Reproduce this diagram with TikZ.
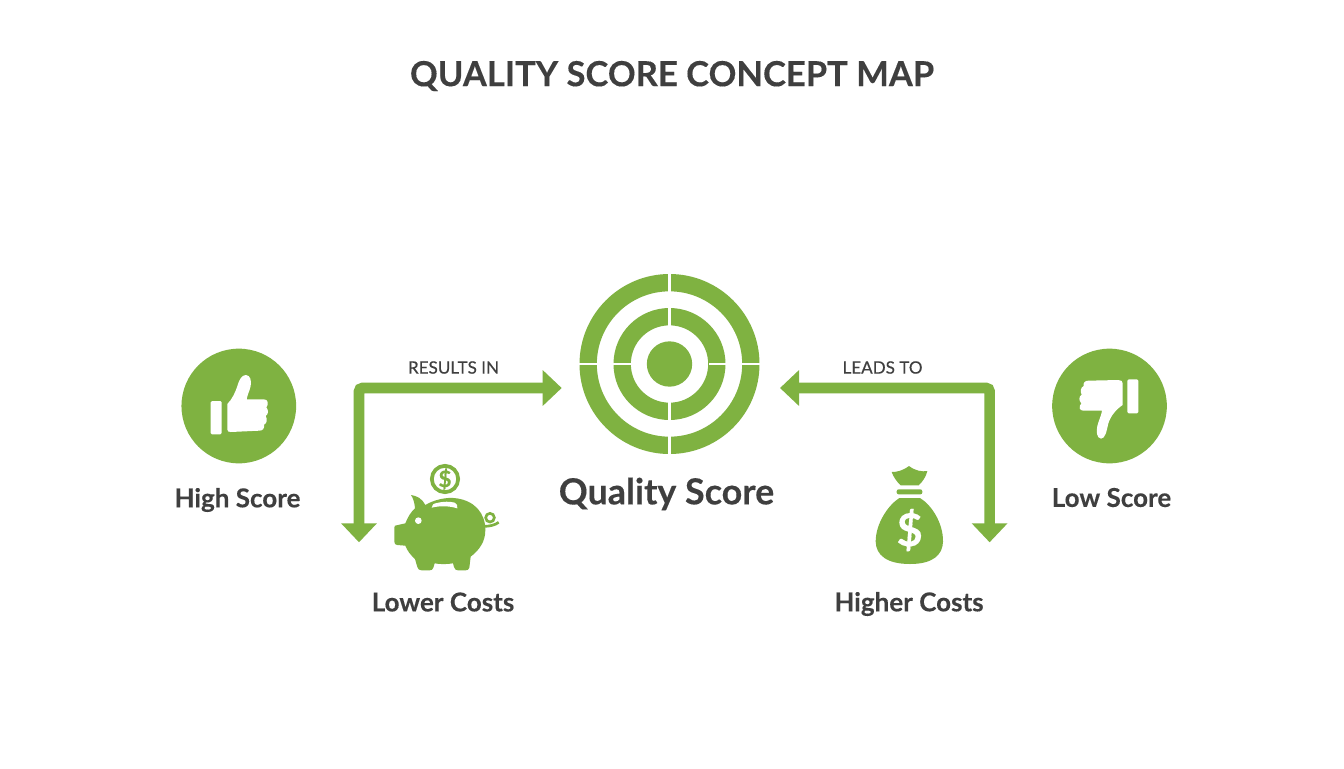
\documentclass[tikz,border=0pt]{standalone}
\usepackage{fontspec}
\usetikzlibrary{arrows.meta}
\setmainfont{Lato}[BoldFeatures={FakeBold=0.25}]
\newfontfamily\medfont{Lato}[FakeBold=0.35]
\definecolor{gr}{HTML}{7FB241}
\definecolor{ink}{HTML}{3F3F3F}
\tikzset{
  lab/.style={text=ink,font=\bfseries\fontsize{19.5}{22}\selectfont,inner sep=0pt,anchor=center},
  small/.style={text=ink,font=\medfont\fontsize{12.8}{14}\selectfont,inner sep=0pt,anchor=center},
  conn/.style={draw=gr,line width=7.9pt,rounded corners=2.5pt,
    {Triangle[length=14.25pt,width=26pt,fill=gr]}-{Triangle[length=14.25pt,width=26pt,fill=gr]}},
  icon/.style={x=0.25pt,y=-0.25pt},
  disc/.style={circle,fill=gr,draw=none,minimum size=86pt,inner sep=0pt}
}
\begin{document}
\begin{tikzpicture}[x=0.75pt,y=-0.75pt]
\useasboundingbox (0,0) rectangle (1344,768);
\fill[white] (0,0) rectangle (1344,768);
\node[text=ink,font=\bfseries\fontsize{25.9}{30}\selectfont,inner sep=0pt] (title) at (672,76) {QUALITY SCORE CONCEPT MAP};
% target
\coordinate (T) at (669.5,364);
\fill[gr,even odd rule] (T) circle[radius=67.5pt] (T) circle[radius=54.5pt];
\fill[gr,even odd rule] (T) circle[radius=42pt] (T) circle[radius=29pt];
\fill[gr] (T) circle[radius=17pt];
\fill[white] (668.1,270) rectangle (670.9,326);
\fill[white] (668.1,402) rectangle (670.9,458);
\fill[white] (575,362.6) rectangle (630.5,365.4);
\fill[white] (708.5,362.6) rectangle (764,365.4);
\node[text=ink,font=\bfseries\fontsize{26.9}{30}\selectfont,inner sep=0pt] (qs) at (666.5,494) {Quality Score};
% discs
\node[disc] (up) at (238.8,406) {};
\node[disc] (down) at (1109.5,406) {};
% thumb up
\begin{scope}[shift={(170,340)},icon]
\fill[white,rounded corners=1pt] (122,183) rectangle (155,283);
\fill[white] (172,192) .. controls (186,178) and (196,158) .. (203,135)
  .. controls (208,118) and (216,105) .. (228,105)
  .. controls (241,106) and (245,122) .. (242,138)
  .. controls (239,152) and (232,165) .. (230,178)
  -- (282,178) .. controls (294,178) and (297,192) .. (289,202)
  .. controls (296,210) and (296,222) .. (287,228)
  .. controls (293,238) and (291,250) .. (282,254)
  .. controls (284,266) and (278,272) .. (268,272)
  -- (182,276) .. controls (175,276) and (172,274) .. (172,268) -- cycle;
\end{scope}
% thumb down
\begin{scope}[shift={(1040,340)},icon]
\fill[white,rounded corners=1pt] (262,118) rectangle (295,220);
\fill[white] (248,195) .. controls (228,208) and (212,228) .. (205,250)
  .. controls (200,272) and (196,296) .. (183,296)
  .. controls (170,294) and (168,275) .. (172,258)
  .. controls (176,240) and (184,228) .. (186,212)
  -- (130,212) .. controls (118,212) and (115,200) .. (124,190)
  .. controls (116,182) and (116,170) .. (125,164)
  .. controls (120,154) and (122,142) .. (131,138)
  .. controls (129,128) and (135,122) .. (145,122)
  -- (235,120) .. controls (244,120) and (248,124) .. (248,130) -- cycle;
\end{scope}
\node[lab] (high) at (237.5,500) {High Score};
\node[lab] (low) at (1111.5,497.5) {Low Score};
% connectors
\coordinate (lt) at (359,542.3);
\coordinate (lr) at (561.7,388);
\coordinate (rt) at (989.6,542.3);
\coordinate (rl) at (780,388);
\draw[conn] (lt) |- (lr);
\draw[conn] (rt) |- (rl);
\node[small] (res) at (453.5,367.5) {RESULTS IN};
\node[small] (lead) at (882.5,367.5) {LEADS TO};
% piggy
\begin{scope}[shift={(380,455)},icon]
\draw[gr,line width=2.8pt] (195,72) circle[radius=39.5];
\node[text=gr,font=\bfseries\fontsize{17}{18}\selectfont,inner sep=0pt] (coin) at (195,72) {\$};
\fill[gr] (45,212) -- (76,205)
  .. controls (84,185) and (92,172) .. (105,160)
  .. controls (104,145) and (100,130) .. (93,120)
  .. controls (110,122) and (128,132) .. (136,150)
  .. controls (160,135) and (200,125) .. (230,130)
  .. controls (285,138) and (316,175) .. (316,225)
  .. controls (316,260) and (298,285) .. (272,305)
  -- (268,338) .. controls (266,345) and (262,346) .. (256,346)
  -- (234,346) .. controls (228,346) and (224,343) .. (222,336)
  -- (219,325) .. controls (200,328) and (180,328) .. (164,325)
  -- (160,338) .. controls (158,345) and (154,346) .. (148,346)
  -- (125,346) .. controls (118,346) and (114,343) .. (112,336)
  -- (105,312) .. controls (92,300) and (82,288) .. (76,272)
  -- (52,270) .. controls (46,270) and (43,266) .. (43,260)
  -- (43,218) .. controls (43,214) and (44,213) .. (45,212) -- cycle;
\fill[white] (155,158) .. controls (155,150) and (160,146) .. (170,144)
  .. controls (190,139) and (210,139) .. (224,143)
  .. controls (230,145) and (234,152) .. (232,160)
  .. controls (205,152) and (180,152) .. (155,158) -- cycle;
\fill[white] (115,197) circle[radius=10];
\draw[gr,line width=2pt] (312,214) .. controls (330,214) and (345,210) .. (356,202);
\draw[gr,line width=2pt] (330,188) circle[radius=13];
\end{scope}
\node[lab] (lower) at (443,602) {Lower Costs};
% bag
\begin{scope}[shift={(860,460)},icon]
\fill[gr] (95,36) .. controls (112,36) and (128,32) .. (147,18)
  .. controls (165,32) and (185,36) .. (202,33)
  .. controls (198,50) and (188,65) .. (176,76)
  -- (122,76) .. controls (110,65) and (100,50) .. (95,36) -- cycle;
\fill[gr,rounded corners=1.5pt] (110,88) rectangle (187,103);
\fill[gr] (118,114) -- (180,114)
  .. controls (215,135) and (250,190) .. (249,245)
  .. controls (248,285) and (218,312) .. (150,312)
  .. controls (80,312) and (48,285) .. (47,245)
  .. controls (47,190) and (85,135) .. (118,114) -- cycle;
\node[text=white,font=\bfseries\fontsize{34}{36}\selectfont,inner sep=0pt] (dollar) at (149,210) {\$};
\end{scope}
\node[lab] (higher) at (909,604) {Higher Costs};
\end{tikzpicture}
\end{document}
